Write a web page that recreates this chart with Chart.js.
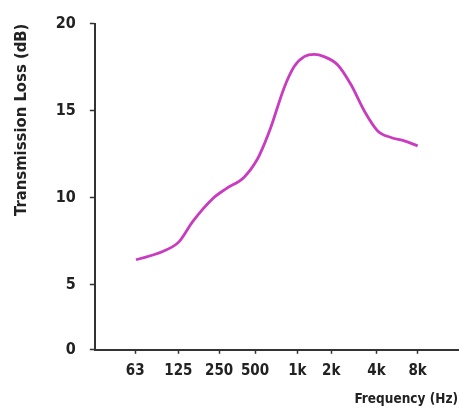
<!DOCTYPE html>
<html>
<head>
<meta charset="utf-8">
<script src="https://cdn.jsdelivr.net/npm/chart.js@4"></script>
<style>
  html, body { margin: 0; padding: 0; background: #fff; }
  #wrap { width: 472px; height: 413px; }
</style>
</head>
<body>
<div id="wrap"><canvas id="chart" width="472" height="413"></canvas></div>
<script>
// octave positions of the frequency ticks (63 Hz = 0)
const tickPos = [0, 1.07, 2.08, 2.97, 4.02, 4.86, 5.98, 7];
const tickLabels = ["63", "125", "250", "500", "1k", "2k", "4k", "8k"];

// points
const curveX = [0.02, 0.68, 1.09, 1.42, 1.92, 2.25, 2.7, 3.03, 3.2, 3.36, 3.69, 3.94,
  4.19, 4.44, 4.68, 5.02, 5.35, 5.68, 6.01, 6.34, 6.67, 7];
const lossDb = [6.42, 6.89, 7.46, 8.6, 9.93, 10.5, 11.17, 12.21, 13.07, 14.02, 16.3, 17.53,
  18.1, 18.23, 18.1, 17.62, 16.48, 14.97, 13.83, 13.45, 13.26, 12.97];

// the bottom of the axis is drawn squeezed, labelled 0
const yBottom = 1.24;
const yTicks = [5, 10, 15, 20];

const font = "'DejaVu Sans Condensed', 'DejaVu Sans', sans-serif";
const ink = "#222";

const ctx = document.getElementById("chart").getContext("2d");
new Chart(ctx, {
  type: "scatter",
  data: {
    datasets: [
      {
        data: curveX.map((x, i) => ({ x: x, y: lossDb[i] })),
        showLine: true,
        borderColor: "#c93bbf",
        borderWidth: 2.8,
        pointRadius: 0,
        tension: 0.4,
        cubicInterpolationMode: "monotone",
      },
    ],
  },
  options: {
    responsive: false,
    animation: false,
    layout: { padding: { top: 0, right: 14, left: 12, bottom: 5 } },
    plugins: { legend: { display: false }, tooltip: { enabled: false } },
    scales: {
      x: {
        type: "linear",
        min: -1,
        max: 8,
        afterBuildTicks: (axis) => {
          axis.ticks = tickPos.map((v) => ({ value: v }));
        },
        ticks: {
          autoSkip: false,
          maxRotation: 0,
          padding: 8,
          color: ink,
          font: { family: font, size: 15, weight: "bold" },
          callback: (v) => tickLabels[tickPos.indexOf(v)],
        },
        grid: { drawOnChartArea: false, tickLength: 4, color: "#333", tickWidth: 1.5 },
        border: { color: "#333", width: 2 },
        title: {
          display: true,
          text: "Frequency (Hz)",
          align: "end",
          color: ink,
          font: { family: font, size: 13.5, weight: "bold" },
          padding: { top: 4, bottom: 0 },
        },
      },
      y: {
        min: yBottom,
        max: 20,
        afterBuildTicks: (axis) => {
          axis.ticks = [{ value: yBottom }].concat(yTicks.map((v) => ({ value: v })));
        },
        ticks: {
          padding: 14,
          color: ink,
          font: { family: font, size: 16, weight: "bold" },
          callback: (v) => (v === yBottom ? "0" : v),
        },
        grid: { drawOnChartArea: false, tickLength: 5, color: "#333", tickWidth: 1.5 },
        border: { color: "#333", width: 2 },
        title: {
          display: true,
          text: "Transmission Loss (dB)",
          align: "end",
          color: ink,
          font: { family: font, size: 16.5, weight: "bold" },
          padding: { top: 0, bottom: 10 },
        },
      },
    },
  },
});
</script>
</body>
</html>
